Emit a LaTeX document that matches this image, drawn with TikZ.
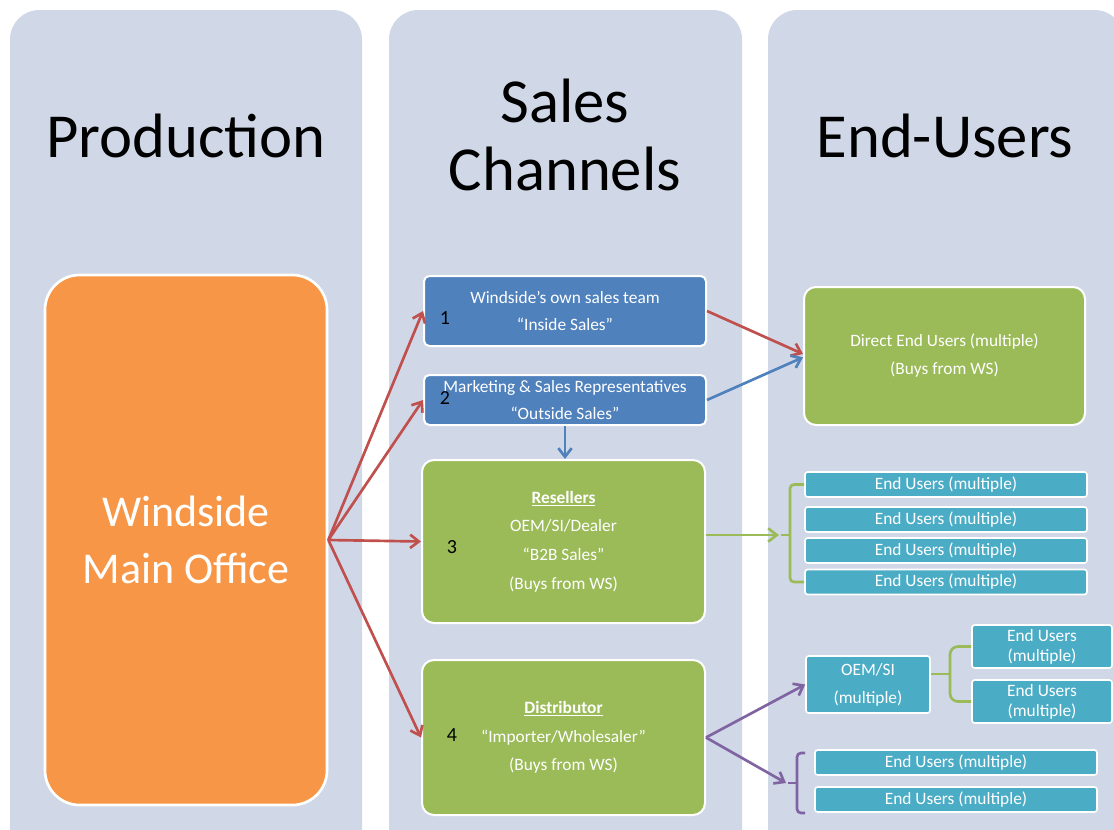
\documentclass[tikz,border=0pt]{standalone}
\usepackage{fontspec}
\setmainfont{Carlito}
\usetikzlibrary{arrows.meta}
\definecolor{panel}{HTML}{D0D8E8}
\definecolor{orng}{HTML}{F79646}
\definecolor{blu}{HTML}{4F81BD}
\definecolor{grn}{HTML}{9BBB59}
\definecolor{aqua}{HTML}{4BACC6}
\definecolor{rd}{HTML}{C0504D}
\definecolor{prp}{HTML}{8064A2}
\begin{document}
\begin{tikzpicture}[x=0.75pt,y=-0.75pt,
  box/.style={draw=white, line width=1.5pt, rounded corners=4pt, text=white, align=center, inner sep=0pt},
  bluebox/.style={box, fill=blu, font=\fontsize{13}{20}\selectfont},
  greenbox/.style={box, fill=grn, rounded corners=9pt, font=\fontsize{13}{21.5}\selectfont},
  eubox/.style={box, fill=aqua, rounded corners=2pt, line width=1.2pt, font=\fontsize{13}{15}\selectfont},
  title/.style={font=\fontsize{47}{51}\selectfont, anchor=base, text=black},
  num/.style={font=\fontsize{15}{16}\selectfont, text=black},
  arr/.style={line width=2pt, -{Straight Barb[length=6.5pt,width=10pt]}},
  brk/.style={line width=2pt}
]
\useasboundingbox (0,0) rectangle (1114,829);
\clip (0,0) rectangle (1114,829);
\fill[white] (0,0) rectangle (1114,829);
% panels
\fill[panel, rounded corners=22pt] (10,10) rectangle (362,880);
\fill[panel, rounded corners=22pt] (389,10) rectangle (742,880);
\fill[panel, rounded corners=22pt] (768,10) rectangle (1124,880);
% titles
\node[title] (tprod) at (186,157) {Production};
\node[title] (tsales1) at (565,122) {Sales};
\node[title] (tsales2) at (565,190) {Channels};
\node[title] (tend) at (945,157) {End-Users};
% orange box
\node[box, fill=orng, line width=2pt, rounded corners=26pt, minimum width=211.5pt, minimum height=397.5pt,
      font=\fontsize{33}{43}\selectfont] (office) at (186,540) {Windside\\Main Office};
% sales channel boxes
\node[bluebox, minimum width=211.5pt, minimum height=52.5pt] (b1) at (565,311)
  {Windside’s own sales team\\“Inside Sales”};
\node[bluebox, minimum width=211.5pt, minimum height=37.5pt] (b2) at (565,400)
  {Marketing \& Sales Representatives\\“Outside Sales”};
\node[greenbox, minimum width=212.25pt, minimum height=122.25pt] (b3) at (563.5,541.5)
  {\underline{\textbf{Resellers}}\\OEM/SI/Dealer\\“B2B Sales”\\(Buys from WS)};
\node[greenbox, minimum width=212.25pt, minimum height=116.25pt] (b4) at (563.5,737.5)
  {\underline{\textbf{Distributor}}\\“Importer/Wholesaler”\\(Buys from WS)};
\node[num] (n1) at (445,318) {1};
\node[num] (n2) at (445,398) {2};
\node[num] (n3) at (452,547) {3};
\node[num] (n4) at (452,735) {4};
% end users
\node[greenbox, font=\fontsize{13}{21}\selectfont, minimum width=210.75pt, minimum height=103.5pt] (direct) at (944.5,356)
  {Direct End Users (multiple)\\(Buys from WS)};
\node[eubox, minimum width=211.5pt, minimum height=18.75pt] (e1) at (946,484.5) {End Users (multiple)};
\node[eubox, minimum width=211.5pt, minimum height=18.75pt] (e2) at (946,519.5) {End Users (multiple)};
\node[eubox, minimum width=211.5pt, minimum height=18.75pt] (e3) at (946,550.5) {End Users (multiple)};
\node[eubox, minimum width=211.5pt, minimum height=18.75pt] (e4) at (946,582) {End Users (multiple)};
\node[eubox, font=\fontsize{13}{21}\selectfont, minimum width=93pt, minimum height=42.75pt] (oem) at (868,684.5) {OEM/SI\\(multiple)};
\node[eubox, minimum width=105pt, minimum height=32.25pt] (e5) at (1042,646.5) {End Users\\(multiple)};
\node[eubox, minimum width=105pt, minimum height=32.25pt] (e6) at (1042,701.5) {End Users\\(multiple)};
\node[eubox, minimum width=211.5pt, minimum height=18.75pt] (e7) at (956,762.5) {End Users (multiple)};
\node[eubox, minimum width=211.5pt, minimum height=18.75pt] (e8) at (956,799.5) {End Users (multiple)};
% red arrows
\draw[arr, rd] (office.east) -- (b1.west);
\draw[arr, rd] (office.east) -- (b2.west);
\draw[arr, rd] (office.east) -- (b3.west);
\draw[arr, rd] (office.east) -- (b4.west);
\draw[arr, rd] (b1.east) -- ([yshift=1.5pt]direct.west);
\draw[arr, blu] (b2.east) -- ([yshift=-1pt]direct.west);
\draw[arr, blu] (b2.south) -- (b2.south |- b3.north);
% green bracket
\coordinate (g1) at (779,535);
\draw[arr, grn] (b3.east |- g1) -- (g1);
\draw[brk, grn, rounded corners=3pt] (e1.west) -- (790,484.5) -- (790,582) -- (e4.west);
\draw[brk, grn] (790,535) -- (781,535);
% small green bracket
\draw[brk, grn] (oem.east |- 0,674) -- (950,674);
\draw[brk, grn, rounded corners=6pt] (e5.west) -- (950,646.5) -- (950,701.5) -- (e6.west);
% purple
\coordinate (p1) at (786,783);
\draw[arr, prp] (b4.east) -- (oem.west);
\draw[arr, prp] (b4.east) -- (p1);
\draw[brk, prp, rounded corners=3pt] (805,753) -- (797,753) -- (797,813) -- (805,813);
\draw[brk, prp] (797,783) -- (788,783);
\end{tikzpicture}
\end{document}
